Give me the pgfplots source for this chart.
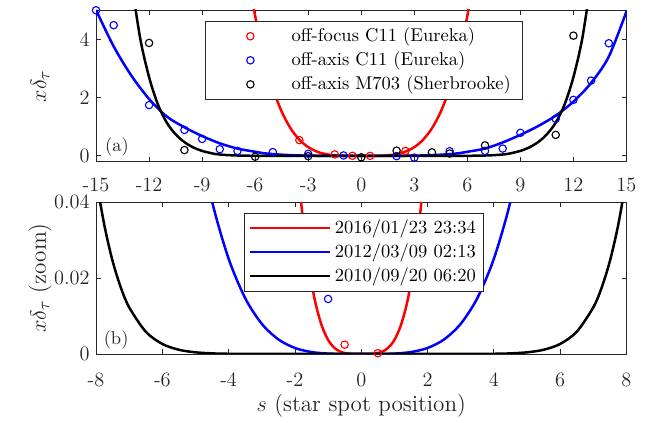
\documentclass[border=0pt]{standalone}
\usepackage{pgfplots}
\pgfplotsset{compat=1.18}
\usepackage{pgfplotstable}
\definecolor{axgray}{rgb}{0.15,0.15,0.15}

\pgfplotstableread{
x y
-6.5 6.605
-6.0 4.795
-5.5 3.386
-5.0 2.3125
-4.5 1.517
-4.0 0.947
-3.5 0.5552
-3.0 0.2997
-2.5 0.1445
-2.2 0.0867
-2.0 0.0592
-1.8 0.03884
-1.6 0.02425
-1.4 0.01421
-1.2 0.00767
-1.0 0.0037
-0.8 0.00152
-0.6 0.00048
-0.4 0.000095
-0.2 0.000006
0.0 0
0.2 0.000006
0.4 0.000095
0.6 0.00048
0.8 0.00152
1.0 0.0037
1.2 0.00767
1.4 0.01421
1.6 0.02425
1.8 0.03884
2.0 0.0592
2.2 0.0867
2.5 0.1445
3.0 0.2997
3.5 0.5552
4.0 0.947
4.5 1.517
5.0 2.3125
5.5 3.386
6.0 4.795
6.5 6.605
}\redfit

\pgfplotstableread{
x y
-15 5.0
-14 3.75
-13 2.75
-12 1.95
-11 1.35
-10 0.98
-9 0.68
-8 0.43
-7 0.25
-6 0.14
-5.5 0.0897
-5 0.0613
-4.5 0.0402
-4 0.0251
-3.5 0.0147
-3 0.00794
-2.5 0.00383
-2 0.00157
-1.5 0.000496
-1 0.000098
-0.5 0.000006
0 0
0.5 0.000006
1 0.000098
1.5 0.000496
2 0.00157
2.5 0.00383
3 0.00794
3.5 0.0147
4 0.0251
4.5 0.0402
5 0.0613
5.5 0.0897
6 0.14
7 0.25
8 0.46
9 0.72
10 1.02
11 1.38
12 1.86
13 2.5
14 3.4
15 4.95
}\bluefit

\pgfplotstableread{
x y
-13 6.0
-12.5 4.02
-12 2.7
-11.5 1.76
-11 1.14
-10.5 0.74
-10 0.47
-9.5 0.29
-9 0.17
-8.5 0.095
-8.25 0.0635
-8 0.0467
-7.75 0.034
-7.5 0.0245
-7.25 0.01745
-7 0.01229
-6.5 0.00586
-6 0.00263
-5.5 0.0011
-5 0.000425
-4.5 0.000148
-4 0.0000456
-3 0.0000026
-2 0
0 0
2 0
3 0.0000026
4 0.0000456
4.5 0.000148
5 0.000425
5.5 0.0011
6 0.00263
6.5 0.00586
7 0.01229
7.25 0.01745
7.5 0.0245
7.75 0.034
8 0.0467
8.25 0.0635
8.5 0.095
9 0.17
9.5 0.29
10 0.47
10.5 0.74
11 1.14
11.5 1.76
12 2.7
12.5 4.02
13 6.0
}\blackfit

\pgfplotstableread{
x y
-3.5 0.54
-1.5 0.05
-0.5 0.00245
0.5 0.0002
2.5 0.17
}\redpts

\pgfplotstableread{
x y
-15 4.99
-14 4.48
-12 1.74
-10 0.89
-9 0.58
-8 0.23
-7 0.17
-5 0.13
-3 0.07
-1 0.0145
2 -0.01
3 -0.06
5 0.16
7 0.17
8 0.25
9 0.79
11 1.27
12 1.92
13 2.58
14 3.86
}\bluepts

\pgfplotstableread{
x y
-12 3.87
-10 0.2
-6 -0.03
-3 -0.01
0 -0.05
2 0.18
4 0.12
5 0.08
7 0.36
11 0.72
12 4.12
}\blackpts

\pgfplotsset{
  myaxis/.style={
    scale only axis, width=286.7pt, height=82pt,
    axis line style={draw=axgray, line width=0.45pt},
    tick style={draw=axgray, line width=0.45pt},
    major tick length=2.6pt,
    tick label style={font=\fontsize{11}{13}\selectfont, text=axgray},
    label style={font=\fontsize{12.5}{15}\selectfont, text=axgray},
    ylabel style={at={(axis description cs:-0.1056,0.5)}, anchor=center},
    scaled ticks=false,
    legend cell align=left,
  },
  fitline/.style={line width=1.35pt, smooth},
  pts/.style={draw=none, mark=o, mark size=2pt, mark options={line width=0.6pt, solid, draw}},
}

\begin{document}
\begin{tikzpicture}
\path[use as bounding box] (-51.9pt,-140.7pt) rectangle (297.8pt,87.4pt);

\begin{axis}[myaxis, at={(0pt,0pt)}, anchor=south west,
  xmin=-15, xmax=15, ymin=-0.2, ymax=5,
  xtick={-15,-12,-9,-6,-3,0,3,6,9,12,15},
  xticklabels={-15,-12,-9,-6,-3,0,3,6,9,12,15},
  xticklabel style={yshift=-5.3pt},
  ytick={0,2,4}, yticklabels={0,2,4},
  ylabel={\(x\delta_\tau\)},
  legend style={at={(axis description cs:0.804,0.929)}, anchor=north east,
    draw=axgray, line width=0.45pt, inner xsep=4.1pt, inner ysep=1.65pt,
    nodes={inner sep=2pt, text depth=0.15em}, font=\fontsize{10}{12}\selectfont},
  legend image code/.code={\path (0pt,0pt) (40.3pt,0pt);
    \path[#1, draw=none] plot[mark repeat=2,mark phase=2] coordinates {(0pt,0pt) (20pt,0pt) (40.3pt,0pt)};},
]
\addplot[red, fitline, forget plot] table {\redfit};
\addplot[blue, fitline, forget plot] table {\bluefit};
\addplot[black, fitline, forget plot] table {\blackfit};
\addplot[red, pts] table {\redpts};
\addlegendentry{off-focus C11 (Eureka)}
\addplot[blue, pts] table {\bluepts};
\addlegendentry{off-axis C11 (Eureka)}
\addplot[black, pts] table {\blackpts};
\addlegendentry{off-axis M703 (Sherbrooke)}
\node[anchor=base west, inner sep=0pt, font=\fontsize{10}{12}\selectfont, text=axgray]
  at (rel axis cs:0,0) [xshift=4.7pt, yshift=5.4pt] {(a)};
\end{axis}

\begin{axis}[myaxis, at={(0pt,-21.9pt)}, anchor=north west,
  xmin=-8, xmax=8, ymin=0, ymax=0.04,
  xtick={-8,-6,-4,-2,0,2,4,6,8},
  xticklabels={-8,-6,-4,-2,0,2,4,6,8},
  xticklabel style={yshift=-6.6pt},
  ytick={0,0.02,0.04}, yticklabels={0,0.02,0.04},
  ylabel={\(x\delta_\tau\) (zoom)},
  xlabel={\(s\) (star spot position)},
  xlabel style={at={(axis description cs:0.5,-0.378)}, anchor=base},
  legend style={at={(axis description cs:0.7314,0.9316)}, anchor=north east,
    draw=axgray, line width=0.45pt, inner xsep=2.2pt, inner ysep=1.65pt,
    nodes={inner sep=2pt, text depth=0.15em}, font=\fontsize{10}{12}\selectfont},
  legend image code/.code={\draw[#1] (0pt,0pt) -- (43.2pt,0pt);},
]
\addplot[red, fitline] table {\redfit};
\addlegendentry{2016/01/23 23:34}
\addplot[blue, fitline] table {\bluefit};
\addlegendentry{2012/03/09 02:13}
\addplot[black, fitline] table {\blackfit};
\addlegendentry{2010/09/20 06:20}
\addplot[red, pts, forget plot] table {\redpts};
\addplot[blue, pts, forget plot] table {\bluepts};
\addplot[black, pts, forget plot] table {\blackpts};
\node[anchor=base west, inner sep=0pt, font=\fontsize{10}{12}\selectfont, text=axgray]
  at (rel axis cs:0,0) [xshift=4pt, yshift=5pt] {(b)};
\end{axis}
\end{tikzpicture}
\end{document}
